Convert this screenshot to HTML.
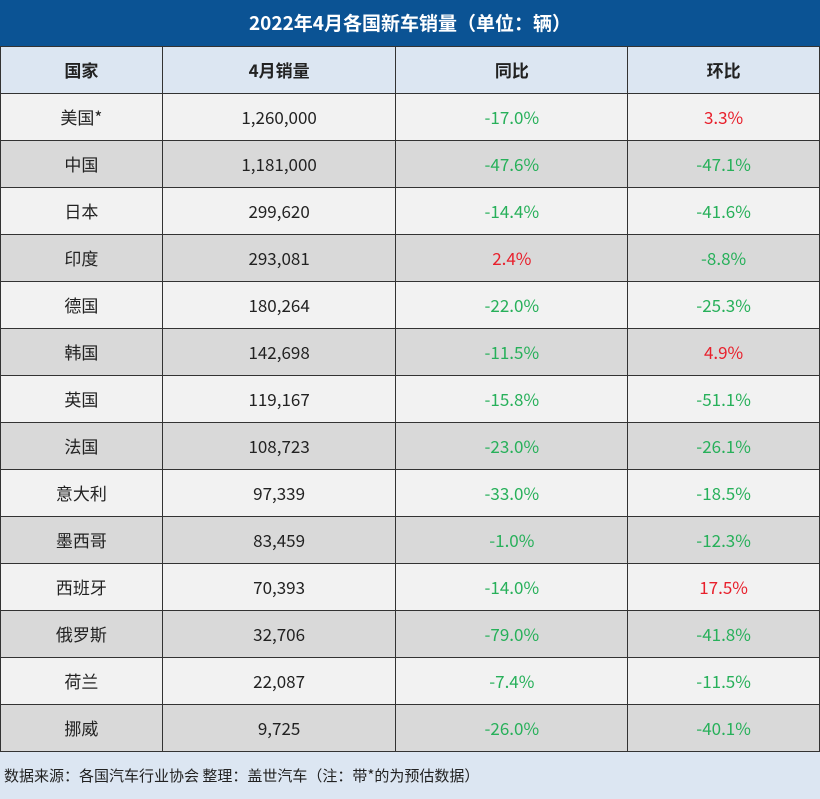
<!DOCTYPE html><html><head><meta charset="utf-8"><style>
body{margin:0;width:820px;height:799px;overflow:hidden;font-family:"Noto Sans CJK SC","Liberation Sans",sans-serif;}
.t{position:absolute;left:0;top:0;width:820px;height:46px;background:#0b5394;color:#fff;font-weight:bold;font-size:19px;text-align:center;line-height:46px;border-bottom:1px solid #333}
table{position:absolute;left:0;top:46px;border-collapse:collapse;width:820px}
td{height:46px;border:1px solid #333;text-align:center;font-size:17px;color:#222;padding:0;line-height:20px}
tr.h td{background:#dce6f2;font-weight:bold}
tr:nth-child(even) td{background:#f2f2f2}
tr:nth-child(odd):not(.h) td{background:#d9d9d9}
.g{color:#27b05a}.r{color:#e8202c}
.f{position:absolute;left:0;top:752px;width:820px;height:47px;background:#dce6f2;font-size:15px;line-height:47px;padding-left:4px;color:#222}
</style></head><body>
<div class="t">2022年4月各国新车销量（单位：辆）</div>
<table>
<colgroup><col style="width:162px"><col style="width:234px"><col style="width:232px"><col style="width:192px"></colgroup>
<tr class="h"><td>国家</td><td>4月销量</td><td>同比</td><td>环比</td></tr>
<tr><td>美国*</td><td>1,260,000</td><td class="g">-17.0%</td><td class="r">3.3%</td></tr>
<tr><td>中国</td><td>1,181,000</td><td class="g">-47.6%</td><td class="g">-47.1%</td></tr>
<tr><td>日本</td><td>299,620</td><td class="g">-14.4%</td><td class="g">-41.6%</td></tr>
<tr><td>印度</td><td>293,081</td><td class="r">2.4%</td><td class="g">-8.8%</td></tr>
<tr><td>德国</td><td>180,264</td><td class="g">-22.0%</td><td class="g">-25.3%</td></tr>
<tr><td>韩国</td><td>142,698</td><td class="g">-11.5%</td><td class="r">4.9%</td></tr>
<tr><td>英国</td><td>119,167</td><td class="g">-15.8%</td><td class="g">-51.1%</td></tr>
<tr><td>法国</td><td>108,723</td><td class="g">-23.0%</td><td class="g">-26.1%</td></tr>
<tr><td>意大利</td><td>97,339</td><td class="g">-33.0%</td><td class="g">-18.5%</td></tr>
<tr><td>墨西哥</td><td>83,459</td><td class="g">-1.0%</td><td class="g">-12.3%</td></tr>
<tr><td>西班牙</td><td>70,393</td><td class="g">-14.0%</td><td class="r">17.5%</td></tr>
<tr><td>俄罗斯</td><td>32,706</td><td class="g">-79.0%</td><td class="g">-41.8%</td></tr>
<tr><td>荷兰</td><td>22,087</td><td class="g">-7.4%</td><td class="g">-11.5%</td></tr>
<tr><td>挪威</td><td>9,725</td><td class="g">-26.0%</td><td class="g">-40.1%</td></tr>
</table>
<div class="f">数据来源：各国汽车行业协会 整理：盖世汽车（注：带*的为预估数据）</div>
</body></html>
